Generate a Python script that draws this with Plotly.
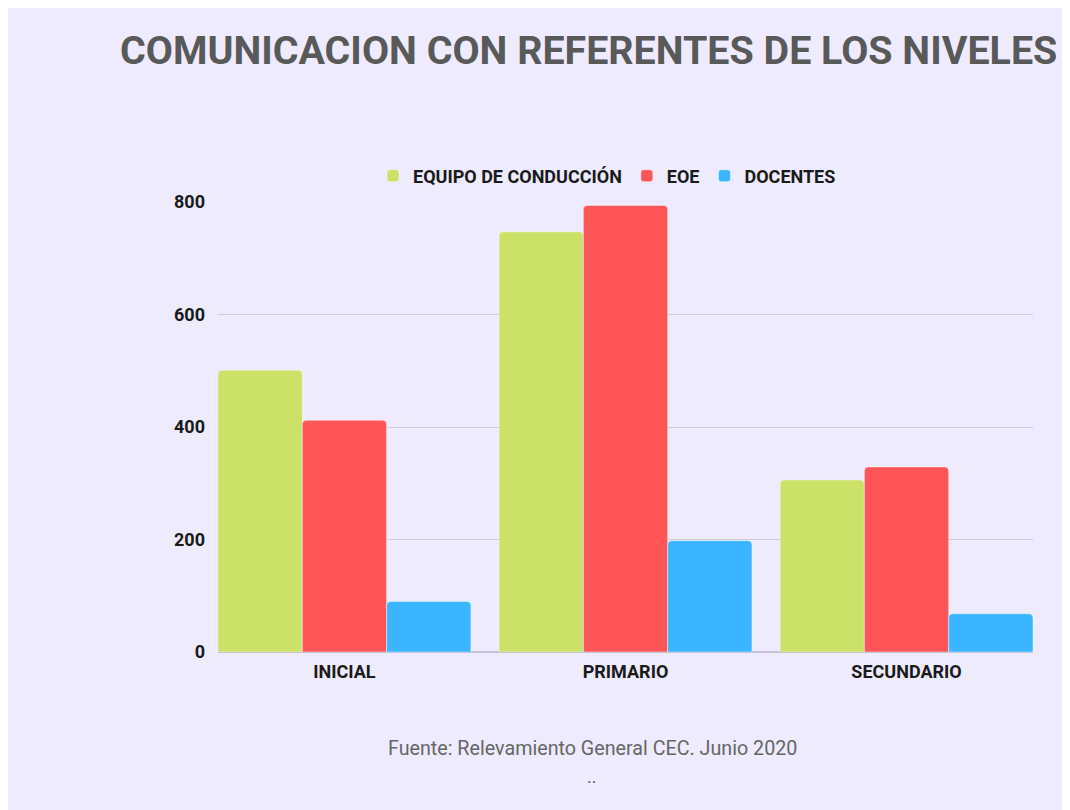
import plotly.graph_objects as go

categories = ["INICIAL", "PRIMARIO", "SECUNDARIO"]
series_names = ["EQUIPO DE CONDUCCIÓN", "EOE", "DOCENTES"]
equipo = [501, 747, 306]
eoe = [412, 794, 329]
docentes = [90, 198, 68]
y_ticks = [0, 200, 400, 600, 800]

colors = ["#CBE168", "#FF5558", "#39B6FF"]
BG = "#EDEBFD"

W, H = 1080, 810
L, T, B = 210, 194, 166
R = W - 1025
pw, ph = W - L - R, H - T - B

fig = go.Figure()
for name, vals, c in zip(series_names, [equipo, eoe, docentes], colors):
    fig.add_trace(go.Bar(
        x=categories, y=vals, name=name,
        marker=dict(color=c, cornerradius=4,
                    line=dict(color="rgba(255,255,255,0.45)", width=1)),
    ))

def px_x(p):
    return (p - L) / pw

def px_y(p):
    return (H - B - p) / ph

fig.update_layout(
    width=W, height=H,
    margin=dict(l=L, r=R, t=T, b=B, pad=0),
    paper_bgcolor=BG, plot_bgcolor=BG,
    barmode="group", bargap=0.1, bargroupgap=0.0,
    font=dict(family="Roboto", size=18, color="#1a1a1a"),
    title=dict(text="<b>COMUNICACION CON REFERENTES DE LOS NIVELES</b>",
               font=dict(family="Roboto", size=39.4, color="#595959"),
               xref="container", x=112 / W, xanchor="left",
               yref="container", y=1 - 42 / H, yanchor="middle"),
    legend=dict(orientation="h", x=px_x(599), xanchor="center",
                y=px_y(168), yanchor="middle",
                font=dict(family="Roboto", size=18, color="#1a1a1a", weight="bold"),
                bgcolor="rgba(0,0,0,0)", itemwidth=30, traceorder="normal"),
    xaxis=dict(range=[-0.45, 2.45], showgrid=False, zeroline=False,
               showline=False, ticks="",
               tickfont=dict(family="Roboto", size=18, color="#1a1a1a", weight="bold"),
               ticklabelstandoff=7),
    yaxis=dict(range=[0, 800], tickvals=y_ticks, showgrid=True,
               gridcolor="#CDCBDD", gridwidth=1, zeroline=True,
               zerolinecolor="#C4C2D6", zerolinewidth=2, showline=False, ticks="",
               tickfont=dict(family="Roboto", size=18, color="#1a1a1a", weight="bold"),
               ticklabelstandoff=12),
    showlegend=True,
)

fig.add_annotation(text="Fuente: Relevamiento General CEC. Junio 2020",
                   xref="paper", yref="paper", x=px_x(584), y=px_y(740),
                   xanchor="center", yanchor="middle", showarrow=False,
                   font=dict(family="Roboto", size=19.7, color="#666666"))
fig.add_annotation(text="..",
                   xref="paper", yref="paper", x=px_x(584), y=px_y(768),
                   xanchor="center", yanchor="middle", showarrow=False,
                   font=dict(family="Roboto", size=18, color="#666666"))

fig.write_html("out.html")
